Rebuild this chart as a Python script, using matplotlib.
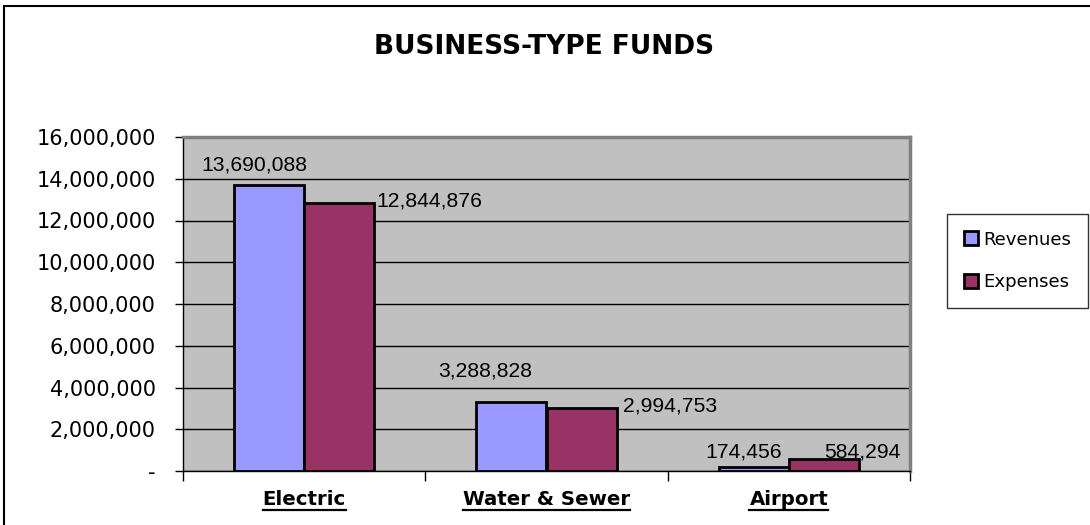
import numpy             as np
import matplotlib
matplotlib.use('Agg')
import matplotlib.pyplot as plt
from matplotlib.patches import Patch, Rectangle
from matplotlib.lines   import Line2D

# fund figures
categories = ['Electric', 'Water & Sewer', 'Airport']
revenues   = [13690088, 3288828, 174456]
expenses   = [12844876, 2994753, 584294]
y_ticks    = [0, 2000000, 4000000, 6000000, 8000000, 10000000, 12000000, 14000000, 16000000]

# label placement relative to the top centre of each bar (pixels)
rev_offsets = [(-15, 20), (-26, 31), (-10, 15)]
exp_offsets = [(37, 2), (41, 2), (38, 7)]
exp_align   = ['left', 'left', 'center']

col_rev = '#9999FF'
col_exp = '#993366'

W, H = 1090, 525
fig = plt.figure(figsize = (W / 100, H / 100), dpi = 100)
fig.patch.set_facecolor('white')

# outer chart border (only left and top fall inside the image)
fig.add_artist(Rectangle((4 / W, -0.05), 1.2, 1 - 6 / H + 0.05, transform = fig.transFigure,
                         fill = False, edgecolor = 'black', linewidth = 1.5))

ax = fig.add_axes([183 / W, (H - 471) / H, 727 / W, 334 / H])
ax.set_facecolor('#C0C0C0')

x     = np.arange(len(categories))
width = 0.289

bars_rev = ax.bar(x - width / 2, revenues, width, color = col_rev, edgecolor = 'black', linewidth = 2, zorder = 3)
bars_exp = ax.bar(x + width / 2, expenses, width, color = col_exp, edgecolor = 'black', linewidth = 2, zorder = 3)

ax.set_xlim(-0.5, len(categories) - 0.5)
ax.set_ylim(0, 16000000)
ax.set_yticks(y_ticks)
ax.set_yticklabels(['-' if v == 0 else '{:,.0f}'.format(v) for v in y_ticks])
ax.yaxis.grid(True, color = 'black', linewidth = 1, zorder = 1)
ax.set_axisbelow(True)

ax.tick_params(axis = 'y', direction = 'out', length = 6, width = 1, pad = 13.5, labelsize = 15)
ax.set_xticks(x)
ax.set_xticklabels(categories, fontsize = 14.2, fontweight = 'bold')
ax.tick_params(axis = 'x', which = 'major', length = 0, pad = 14)
ax.set_xticks(np.arange(len(categories) + 1) - 0.5, minor = True)
ax.tick_params(axis = 'x', which = 'minor', direction = 'out', length = 7, width = 1)

for side in ['left', 'bottom']:
    ax.spines[side].set_color('black')
    ax.spines[side].set_linewidth(1)
for side in ['top', 'right']:
    ax.spines[side].set_color('#808080')
    ax.spines[side].set_linewidth(2.5)

label_font = dict(family = 'Liberation Sans', fontsize = 15.2, color = 'black')

for bar, val, (dx, dy) in zip(bars_rev, revenues, rev_offsets):
    ax.annotate('{:,.0f}'.format(val), (bar.get_x() + bar.get_width() / 2, val),
                xytext = (dx, dy), textcoords = 'offset pixels',
                ha = 'center', va = 'center', zorder = 5, **label_font)

for bar, val, (dx, dy), ha in zip(bars_exp, expenses, exp_offsets, exp_align):
    ax.annotate('{:,.0f}'.format(val), (bar.get_x() + bar.get_width() / 2, val),
                xytext = (dx, dy), textcoords = 'offset pixels',
                ha = ha, va = 'center', zorder = 5, **label_font)

fig.text(544 / W, 1 - 47 / H, 'BUSINESS-TYPE FUNDS', ha = 'center', va = 'center',
         fontsize = 19, fontweight = 'bold')

handles = [Patch(facecolor = col_rev, edgecolor = 'black', linewidth = 2, label = 'Revenues'),
           Patch(facecolor = col_exp, edgecolor = 'black', linewidth = 2, label = 'Expenses')]
leg = fig.legend(handles = handles, loc = 'center',
                 bbox_to_anchor = (947 / W, 1 - 309 / H, 141 / W, 96 / H),
                 fontsize = 13.1, frameon = True, fancybox = False, shadow = False,
                 handlelength = 0.8, handleheight = 0.8, handletextpad = 0.3,
                 labelspacing = 1.35, borderpad = 0.9)
leg.get_frame().set_edgecolor('black')
leg.get_frame().set_linewidth(1)

# underline the category names
fig.canvas.draw()
renderer = fig.canvas.get_renderer()
for lbl in ax.get_xticklabels():
    bb = lbl.get_window_extent(renderer)
    y0 = bb.y0 - 1
    fig.add_artist(Line2D([bb.x0 / W, bb.x1 / W], [y0 / H, y0 / H], transform = fig.transFigure,
                          color = 'black', linewidth = 1.6))

fig.savefig('out.png', dpi = 100)
